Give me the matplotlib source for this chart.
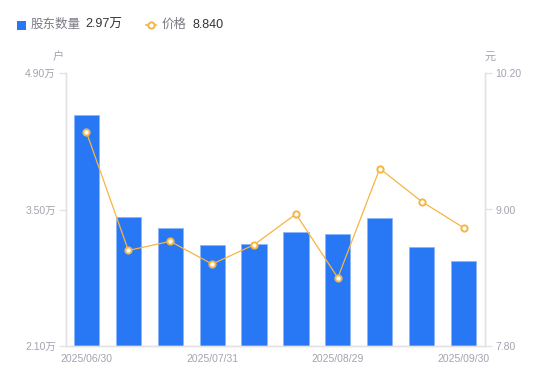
import matplotlib
matplotlib.use("Agg")
import matplotlib.pyplot as plt
from matplotlib.patches import Rectangle
from matplotlib.lines import Line2D
import numpy as np

plt.rcParams['font.family'] = ['Liberation Sans', 'Noto Sans CJK SC', 'DejaVu Sans']

dates = ["2025/06/30", "2025/07/10", "2025/07/20", "2025/07/31", "2025/08/10",
         "2025/08/20", "2025/08/29", "2025/09/10", "2025/09/20", "2025/09/30"]
holders = [4.47, 3.42, 3.31, 3.14, 3.15, 3.27, 3.25, 3.41, 3.12, 2.97]  # 万户
prices = [9.68, 8.64, 8.72, 8.52, 8.69, 8.96, 8.40, 9.36, 9.07, 8.84]
left_ticks = [2.10, 3.50, 4.90]
right_ticks = [7.80, 9.00, 10.20]
shown_idx = [0, 3, 6, 9]

W, H = 550, 381
fig = plt.figure(figsize=(W / 100, H / 100), dpi=100)
ax = fig.add_axes([65.5 / W, 1 - 346 / H, 419 / W, 273 / H])
ax2 = ax.twinx()

bar_c = '#2878F5'
line_c = '#F7B541'
grid_c = '#E3E3E6'
tick_c = '#A3A3B0'

x = np.arange(len(dates))
ax.bar(x, [h - left_ticks[0] for h in holders], bottom=left_ticks[0], width=0.6,
       color=bar_c, edgecolor='#8DB6F8', linewidth=0.6, zorder=2)
ax.set_xlim(-0.5, len(dates) - 0.5)
ax.set_ylim(left_ticks[0], left_ticks[-1])
ax.set_yticks(left_ticks)
ax.set_yticklabels([f"{v:.2f}万" for v in left_ticks])
ax.set_xticks([x[i] for i in shown_idx])
ax.set_xticklabels([dates[i] for i in shown_idx])

ax2.plot(x, prices, color=line_c, linewidth=0.9, marker='o', markersize=4.5,
         markerfacecolor='white', markeredgecolor=line_c, markeredgewidth=1.4, zorder=3)
ax2.set_ylim(right_ticks[0], right_ticks[-1])
ax2.set_yticks(right_ticks)
ax2.set_yticklabels([f"{v:.2f}" for v in right_ticks])

for a in (ax, ax2):
    for s in ('top',):
        a.spines[s].set_visible(False)
    for s in ('left', 'right', 'bottom'):
        a.spines[s].set_color(grid_c)
        a.spines[s].set_linewidth(1)
    a.tick_params(axis='y', colors=grid_c, labelcolor=tick_c, labelsize=7.5, length=5, width=1, pad=2)
    a.tick_params(axis='x', length=0, labelcolor=tick_c, labelsize=7.5, pad=6)
ax2.tick_params(axis='y', length=5, pad=3)

# unit labels
fig.text(58 / W, 1 - 57 / H, "户", ha='center', va='center', fontsize=8, color=tick_c)
fig.text(490 / W, 1 - 57 / H, "元", ha='center', va='center', fontsize=8, color=tick_c)

# legend
ly = 1 - 25 / H
fig.patches.append(Rectangle((17 / W, 1 - 29.5 / H), 9 / W, 9 / H, transform=fig.transFigure,
                             facecolor=bar_c, edgecolor='none'))
fig.text(31 / W, ly, "股东数量", ha='left', va='center', fontsize=9, color='#7A7A85')
fig.text(85 / W, ly, "2.97万", ha='left', va='center', fontsize=9, color='#333333')
fig.lines.append(Line2D([146 / W, 156 / W], [ly, ly], transform=fig.transFigure,
                        color=line_c, linewidth=1.2))
fig.lines.append(Line2D([151 / W], [ly], transform=fig.transFigure, marker='o', markersize=4.5,
                        markerfacecolor='white', markeredgecolor=line_c, markeredgewidth=1.4))
fig.text(162 / W, ly, "价格", ha='left', va='center', fontsize=9, color='#7A7A85')
fig.text(192 / W, ly, "8.840", ha='left', va='center', fontsize=9, color='#333333')

fig.savefig("out.png", dpi=100)
